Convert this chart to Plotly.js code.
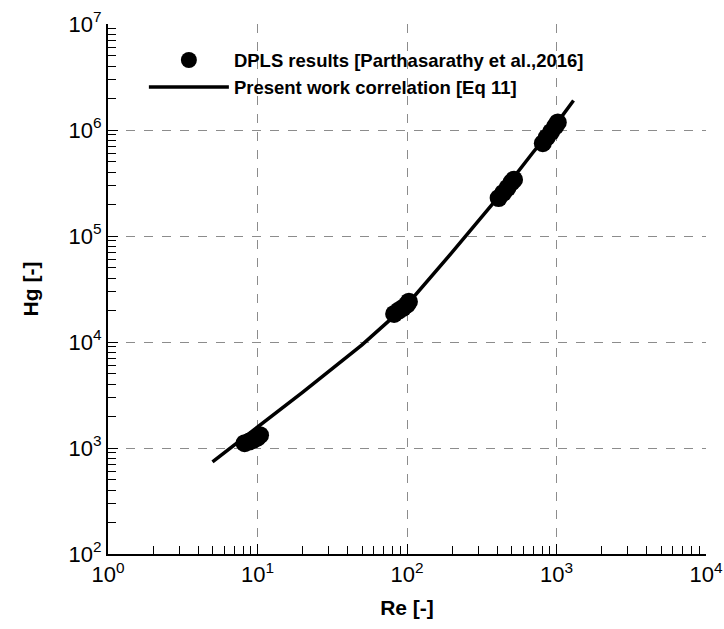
<!DOCTYPE html>
<html>
<head>
<meta charset="utf-8">
<script src="https://cdn.plot.ly/plotly-3.0.1.min.js"></script>
<style>html,body{margin:0;padding:0;background:#fff;}#chart{width:724px;height:629px;}</style>
</head>
<body>
<div id="chart"></div>
<script>
// DPLS results [Parthasarathy et al., 2016]
const dplsRe = [8.2, 8.8, 9.4, 10.0, 10.4, 82, 88, 94, 100, 103, 410, 440, 470, 500, 520, 810, 860, 920, 980, 1020];
const dplsHg = [1110, 1150, 1200, 1250, 1320, 18400, 19800, 21000, 22500, 24000, 228000, 255000, 285000, 320000, 340000, 750000, 850000, 960000, 1080000, 1180000];
// Present work correlation [Eq 11]
const corrRe = [5, 10, 20, 50, 100, 200, 400, 700, 1000, 1300];
const corrHg = [740, 1560, 3350, 9400, 22500, 70000, 225000, 620000, 1150000, 1900000];

const seriesNames = ["DPLS results [Parthasarathy et al.,2016]", "Present work correlation [Eq 11]"];

// tick labels
const xTickExp = [0, 1, 2, 3, 4];
const yTickExp = [2, 3, 4, 5, 6, 7];

function majorVals(exps) { return exps.map(e => Math.pow(10, e)); }
function majorText(exps) { return exps.map(e => "10<sup>" + e + "</sup>"); }
function minorVals(lo, hi) {
  const v = [];
  for (let e = lo; e < hi; e++) for (let m = 2; m <= 9; m++) v.push(m * Math.pow(10, e));
  return v;
}

const traces = [
  {x: dplsRe, y: dplsHg, name: seriesNames[0], type: "scatter", mode: "markers",
   marker: {color: "black", size: 18, symbol: "circle"}},
  {x: corrRe, y: corrHg, name: seriesNames[1], type: "scatter", mode: "lines",
   line: {color: "black", width: 3.5}}
];

const FONT = "Liberation Sans, Arial, sans-serif";
const axisCommon = {
  type: "log", tickmode: "array",
  showline: true, linecolor: "black", linewidth: 2, mirror: false,
  ticks: "inside", ticklen: 10, tickwidth: 1, tickcolor: "black",
  showgrid: true, gridcolor: "#8c8c8c", griddash: "dash", gridwidth: 1,
  zeroline: false,
  tickfont: {family: FONT, size: 22, color: "black"}
};

const layout = {
  width: 724, height: 629,
  margin: {l: 108, r: 18, t: 24, b: 75},
  paper_bgcolor: "white", plot_bgcolor: "white",
  showlegend: true,
  legend: {x: 0.06, y: 0.967, xanchor: "left", yanchor: "top", bgcolor: "rgba(0,0,0,0)",
           itemwidth: 80, tracegroupgap: 0,
           font: {family: FONT, size: 18.5, color: "black", weight: "bold"}},
  xaxis: Object.assign({}, axisCommon, {
    range: [0, 4],
    tickvals: majorVals(xTickExp), ticktext: majorText(xTickExp),
    minor: {tickmode: "array", tickvals: minorVals(0, 4), ticks: "inside", ticklen: 8, tickcolor: "black", showgrid: false},
    title: {text: "Re [-]", standoff: 14, font: {family: FONT, size: 21, color: "black", weight: "bold"}}
  }),
  yaxis: Object.assign({}, axisCommon, {
    range: [2, 7],
    tickvals: majorVals(yTickExp), ticktext: majorText(yTickExp),
    minor: {tickmode: "array", tickvals: minorVals(2, 7), ticks: "inside", ticklen: 8, tickcolor: "black", showgrid: false},
    title: {text: "Hg [-]", standoff: 24, font: {family: FONT, size: 21, color: "black", weight: "bold"}}
  })
};

Plotly.newPlot("chart", traces, layout, {displayModeBar: false, staticPlot: true});
</script>
</body>
</html>
